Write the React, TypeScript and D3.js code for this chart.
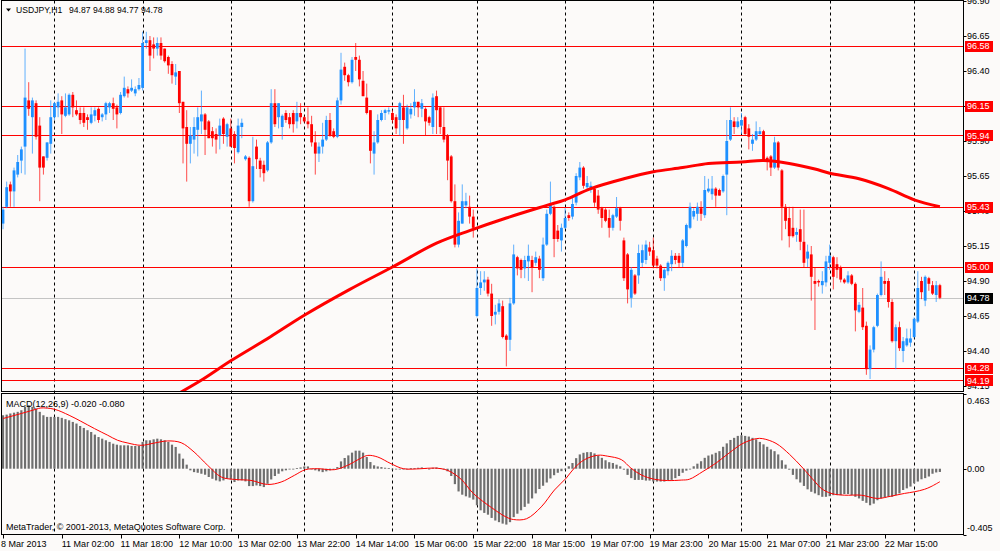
import React from 'react';
import * as d3 from 'd3';

// ---------- DATA ----------
const opens = [
  95.31, 95.43, 95.59, 95.54, 95.66, 95.76, 95.86, 96.19, 96.07, 96.17,
  96.01, 95.79, 95.78, 95.88, 96.07, 96.14, 96.19, 96.08, 96.09, 96.23,
  96.12, 96.10, 96.10, 96.07, 96.03, 96.08, 96.13, 96.07, 96.09, 96.14,
  96.17, 96.14, 96.10, 96.22, 96.27, 96.26, 96.24, 96.27, 96.28, 96.60,
  96.62, 96.59, 96.56, 96.60, 96.56, 96.50, 96.45, 96.36, 96.40, 96.18,
  96.00, 95.88, 95.91, 95.98, 96.04, 96.09, 96.04, 95.97, 95.95, 95.94,
  96.06, 95.93, 95.99, 95.95, 95.82, 96.00, 95.77, 95.78, 95.47, 95.86,
  95.76, 95.73, 95.69, 95.89, 96.17, 96.07, 96.00, 96.10, 96.07, 96.10,
  96.04, 96.10, 96.07, 96.04, 96.02, 95.89, 95.81, 95.86, 95.91, 96.05,
  95.97, 95.93, 96.19, 96.43, 96.37, 96.32, 96.50, 96.48, 96.33, 96.21,
  96.12, 95.81, 95.89, 96.05, 96.10, 96.11, 96.10, 96.07, 96.05, 96.14,
  95.99, 96.09, 96.14, 96.18, 96.13, 96.13, 96.07, 96.00, 96.22, 96.14,
  96.00, 95.94, 95.79, 95.47, 95.16, 95.31, 95.44, 95.43, 95.36, 94.65,
  94.85, 94.89, 94.91, 94.81, 94.66, 94.68, 94.72, 94.51, 94.48, 94.74,
  95.07, 95.05, 94.99, 95.04, 95.05, 95.03, 95.06, 94.92, 95.16, 95.38,
  95.43, 95.26, 95.19, 95.28, 95.37, 95.36, 95.46, 95.64, 95.71, 95.57,
  95.55, 95.56, 95.51, 95.42, 95.41, 95.35, 95.28, 95.36, 95.42, 95.19,
  95.09, 94.78, 94.94, 94.94, 95.03, 95.05, 95.14, 95.12, 95.06, 95.01,
  94.92, 94.97, 95.02, 95.08, 95.08, 95.03, 95.15, 95.28, 95.36, 95.38,
  95.42, 95.37, 95.54, 95.52, 95.56, 95.55, 95.54, 95.66, 95.91, 96.04,
  96.00, 96.01, 96.07, 95.99, 95.88, 95.91, 95.95, 95.97, 95.78, 95.79,
  95.71, 95.89, 95.69, 95.43, 95.35, 95.28, 95.23, 95.27, 95.18, 95.06,
  95.09, 94.90, 94.90, 94.87, 94.89, 95.03, 95.07, 95.02, 95.00, 94.91,
  94.89, 94.94, 94.88, 94.68, 94.71, 94.58, 94.27, 94.41, 94.58, 94.80,
  94.90, 94.90, 94.75, 94.47, 94.57, 94.40, 94.44, 94.46, 94.50, 94.61,
  94.90, 94.76, 94.92, 94.87, 94.80, 94.87,
];
const highs = [
  95.43, 95.61, 95.61, 95.71, 95.80, 95.86, 96.56, 96.32, 96.21, 96.19,
  96.07, 95.79, 95.89, 96.19, 96.18, 96.24, 96.22, 96.24, 96.24, 96.25,
  96.19, 96.14, 96.14, 96.09, 96.14, 96.14, 96.14, 96.10, 96.18, 96.18,
  96.21, 96.16, 96.25, 96.36, 96.29, 96.34, 96.29, 96.35, 96.68, 96.68,
  96.65, 96.64, 96.64, 96.64, 96.56, 96.51, 96.47, 96.45, 96.40, 96.18,
  96.12, 96.00, 96.07, 96.14, 96.26, 96.10, 96.05, 96.00, 95.99, 96.06,
  96.07, 96.03, 96.06, 95.97, 96.06, 96.06, 95.80, 95.79, 95.93, 95.91,
  95.78, 95.76, 95.90, 96.27, 96.27, 96.17, 96.09, 96.12, 96.10, 96.12,
  96.18, 96.17, 96.08, 96.14, 96.08, 95.97, 95.89, 96.03, 96.08, 96.10,
  95.99, 96.21, 96.53, 96.46, 96.38, 96.50, 96.60, 96.51, 96.40, 96.31,
  96.12, 95.97, 96.09, 96.12, 96.13, 96.14, 96.12, 96.09, 96.18, 96.23,
  96.16, 96.17, 96.27, 96.18, 96.20, 96.14, 96.08, 96.24, 96.26, 96.15,
  96.14, 95.95, 95.80, 95.59, 95.39, 95.59, 95.53, 95.51, 95.41, 94.99,
  94.97, 94.97, 94.93, 94.88, 94.73, 94.77, 94.76, 94.52, 94.78, 95.16,
  95.08, 95.06, 95.08, 95.16, 95.08, 95.11, 95.08, 95.21, 95.41, 95.61,
  95.44, 95.30, 95.31, 95.42, 95.39, 95.51, 95.67, 95.75, 95.72, 95.65,
  95.61, 95.57, 95.55, 95.43, 95.42, 95.41, 95.38, 95.50, 95.43, 95.21,
  95.10, 95.00, 94.95, 95.16, 95.16, 95.19, 95.18, 95.21, 95.08, 95.02,
  94.99, 95.04, 95.12, 95.10, 95.10, 95.20, 95.31, 95.46, 95.42, 95.46,
  95.47, 95.65, 95.63, 95.65, 95.57, 95.56, 95.66, 96.05, 96.14, 96.07,
  96.07, 96.10, 96.08, 96.02, 95.95, 96.04, 96.00, 95.98, 95.79, 95.80,
  95.93, 95.90, 95.70, 95.45, 95.43, 95.43, 95.28, 95.41, 95.41, 95.16,
  95.15, 95.00, 94.91, 94.97, 95.08, 95.16, 95.08, 95.07, 95.01, 94.92,
  94.97, 94.95, 94.89, 94.75, 94.85, 94.61, 94.44, 94.58, 94.81, 95.04,
  94.97, 94.92, 94.77, 94.59, 94.61, 94.50, 94.56, 94.56, 94.64, 94.97,
  94.93, 94.94, 94.93, 94.90, 94.90, 94.88,
];
const lows = [
  95.27, 95.42, 95.43, 95.43, 95.64, 95.67, 95.66, 96.08, 95.81, 95.91,
  95.47, 95.66, 95.76, 95.81, 96.05, 96.07, 95.95, 96.07, 96.08, 96.07,
  96.08, 96.02, 96.00, 95.98, 96.02, 96.04, 96.03, 96.04, 96.05, 96.10,
  96.05, 95.99, 96.09, 96.21, 96.21, 96.25, 96.22, 96.26, 96.26, 96.56,
  96.40, 96.49, 96.51, 96.48, 96.46, 96.38, 96.31, 96.30, 96.10, 95.74,
  95.61, 95.74, 95.81, 95.79, 95.95, 95.80, 95.92, 95.86, 95.81, 95.84,
  95.88, 95.86, 95.86, 95.74, 95.81, 95.92, 95.76, 95.43, 95.46, 95.70,
  95.64, 95.61, 95.68, 95.88, 96.00, 95.99, 95.91, 96.03, 95.99, 95.96,
  95.99, 96.02, 96.03, 95.99, 95.86, 95.66, 95.75, 95.81, 95.90, 95.93,
  95.92, 95.92, 96.16, 96.33, 96.29, 96.31, 96.40, 96.29, 96.22, 96.09,
  95.74, 95.66, 95.88, 96.04, 96.05, 96.09, 96.03, 95.95, 95.94, 95.88,
  95.98, 96.06, 96.08, 96.07, 96.07, 95.94, 96.01, 95.95, 95.95, 95.95,
  95.89, 95.62, 95.46, 95.14, 95.14, 95.31, 95.42, 95.31, 95.21, 94.64,
  94.80, 94.83, 94.79, 94.58, 94.59, 94.66, 94.49, 94.29, 94.40, 94.73,
  94.94, 94.92, 94.92, 94.90, 94.82, 95.01, 94.92, 94.90, 95.15, 95.37,
  95.07, 95.18, 95.11, 95.27, 95.33, 95.34, 95.44, 95.62, 95.56, 95.55,
  95.53, 95.43, 95.38, 95.28, 95.32, 95.21, 95.26, 95.35, 95.26, 94.90,
  94.74, 94.71, 94.80, 94.88, 95.00, 95.02, 95.08, 94.99, 94.99, 94.90,
  94.83, 94.94, 94.97, 95.02, 95.00, 95.00, 95.14, 95.27, 95.34, 95.33,
  95.33, 95.35, 95.53, 95.48, 95.43, 95.51, 95.53, 95.37, 95.90, 95.95,
  95.99, 95.95, 95.94, 95.84, 95.83, 95.90, 95.94, 95.75, 95.69, 95.65,
  95.70, 95.69, 95.19, 95.27, 95.14, 95.21, 95.18, 95.12, 95.00, 95.00,
  94.76, 94.55, 94.86, 94.81, 94.86, 94.98, 94.84, 94.92, 94.89, 94.88,
  94.88, 94.87, 94.54, 94.67, 94.55, 94.23, 94.20, 94.39, 94.57, 94.79,
  94.80, 94.71, 94.46, 94.27, 94.40, 94.32, 94.43, 94.43, 94.49, 94.60,
  94.77, 94.72, 94.83, 94.80, 94.75, 94.77,
];
const closes = [
  95.41, 95.57, 95.54, 95.69, 95.75, 95.84, 96.21, 96.13, 96.19, 95.93,
  95.71, 95.71, 95.89, 96.07, 96.17, 96.18, 96.09, 96.14, 96.23, 96.14,
  96.09, 96.05, 96.03, 96.05, 96.09, 96.12, 96.05, 96.09, 96.17, 96.17,
  96.13, 96.09, 96.23, 96.28, 96.24, 96.28, 96.27, 96.30, 96.60, 96.62,
  96.51, 96.56, 96.60, 96.51, 96.47, 96.44, 96.37, 96.39, 96.17, 95.99,
  95.88, 95.94, 96.00, 96.07, 96.09, 95.98, 95.92, 95.92, 95.91, 96.01,
  95.95, 96.02, 95.86, 95.85, 96.01, 96.03, 95.79, 95.47, 95.72, 95.77,
  95.70, 95.67, 95.89, 96.17, 96.02, 96.17, 96.08, 96.05, 96.02, 96.02,
  96.10, 96.07, 96.04, 96.02, 95.89, 95.81, 95.86, 95.91, 96.05, 95.94,
  95.93, 96.19, 96.41, 96.37, 96.32, 96.48, 96.48, 96.34, 96.22, 96.10,
  95.83, 95.89, 96.05, 96.10, 96.12, 96.12, 96.05, 95.99, 96.17, 96.05,
  96.14, 96.13, 96.18, 96.14, 96.17, 96.04, 96.03, 96.21, 96.12, 96.00,
  95.91, 95.76, 95.47, 95.16, 95.33, 95.47, 95.47, 95.36, 95.28, 94.85,
  94.89, 94.91, 94.81, 94.65, 94.68, 94.74, 94.50, 94.48, 94.74, 95.09,
  94.99, 94.98, 95.05, 95.08, 95.00, 95.07, 94.98, 95.16, 95.38, 95.45,
  95.20, 95.20, 95.28, 95.35, 95.35, 95.45, 95.65, 95.71, 95.58, 95.60,
  95.58, 95.46, 95.41, 95.35, 95.33, 95.28, 95.37, 95.42, 95.33, 94.92,
  94.84, 94.98, 94.81, 95.10, 95.12, 95.16, 95.11, 95.01, 95.01, 94.92,
  94.98, 95.03, 95.08, 95.05, 95.03, 95.19, 95.30, 95.43, 95.40, 95.43,
  95.38, 95.55, 95.56, 95.56, 95.51, 95.51, 95.65, 95.90, 96.05, 96.00,
  96.04, 96.05, 95.95, 95.93, 95.91, 95.97, 95.97, 95.76, 95.75, 95.71,
  95.89, 95.71, 95.43, 95.33, 95.22, 95.22, 95.25, 95.18, 95.03, 95.11,
  94.93, 94.88, 94.89, 94.90, 95.04, 95.08, 94.93, 94.98, 94.91, 94.89,
  94.94, 94.88, 94.69, 94.73, 94.57, 94.27, 94.41, 94.57, 94.80, 94.93,
  94.88, 94.75, 94.47, 94.57, 94.42, 94.47, 94.49, 94.49, 94.63, 94.85,
  94.82, 94.93, 94.88, 94.81, 94.87, 94.78,
];

// Moving average (thick red curve), sampled at bar positions
const maBars = [48, 54.5, 62, 72.7, 82, 94.4, 106, 118, 127, 137, 148, 153, 160, 169, 177, 185, 192, 201, 207, 214, 221, 225, 233, 241, 248, 255];
const maValues = [94.10, 94.20, 94.33, 94.50, 94.655, 94.84, 95.00, 95.17, 95.26, 95.35, 95.44, 95.48, 95.56, 95.63, 95.68, 95.71, 95.74, 95.75, 95.76, 95.74, 95.70, 95.67, 95.63, 95.56, 95.48, 95.43];

// MACD histogram (main line), one per bar
const macdHist = [
  0.329, 0.333, 0.340, 0.345, 0.350, 0.360, 0.381, 0.391, 0.381, 0.370,
  0.350, 0.329, 0.319, 0.319, 0.319, 0.319, 0.313, 0.305, 0.298, 0.288,
  0.278, 0.263, 0.251, 0.237, 0.226, 0.210, 0.195, 0.185, 0.175, 0.165,
  0.154, 0.148, 0.144, 0.144, 0.144, 0.140, 0.140, 0.140, 0.165, 0.175,
  0.175, 0.181, 0.185, 0.181, 0.175, 0.165, 0.148, 0.134, 0.093, 0.062,
  0.025, -0.010, -0.021, -0.025, -0.031, -0.037, -0.051, -0.062, -0.072, -0.078,
  -0.072, -0.062, -0.066, -0.082, -0.072, -0.072, -0.078, -0.107, -0.107, -0.103,
  -0.107, -0.113, -0.093, -0.066, -0.045, -0.031, -0.016, -0.010, -0.004, 0.000,
  0.004, 0.008, 0.014, 0.014, 0.000, -0.010, -0.016, -0.021, -0.016, -0.010,
  -0.006, 0.010, 0.045, 0.066, 0.082, 0.099, 0.111, 0.111, 0.099, 0.072,
  0.041, 0.021, 0.014, 0.010, 0.006, 0.004, 0.000, -0.004, -0.004, -0.004,
  0.000, 0.004, 0.004, 0.006, 0.008, 0.004, 0.000, 0.006, 0.008, 0.004,
  -0.004, -0.016, -0.045, -0.095, -0.140, -0.160, -0.170, -0.178, -0.190, -0.225,
  -0.256, -0.272, -0.283, -0.303, -0.319, -0.329, -0.338, -0.344, -0.329, -0.298,
  -0.277, -0.256, -0.235, -0.215, -0.183, -0.152, -0.125, -0.105, -0.085, -0.060,
  -0.040, -0.025, -0.015, -0.005, 0.015, 0.035, 0.065, 0.088, 0.098, 0.102,
  0.102, 0.094, 0.081, 0.067, 0.052, 0.040, 0.035, 0.025, 0.015, -0.006,
  -0.038, -0.058, -0.069, -0.069, -0.069, -0.073, -0.073, -0.079, -0.079, -0.079,
  -0.079, -0.073, -0.069, -0.058, -0.045, -0.025, -0.012, -0.004, 0.015, 0.031,
  0.046, 0.067, 0.081, 0.088, 0.098, 0.108, 0.135, 0.156, 0.177, 0.190,
  0.202, 0.206, 0.202, 0.198, 0.190, 0.181, 0.165, 0.150, 0.135, 0.119,
  0.108, 0.088, 0.052, 0.025, -0.006, -0.038, -0.065, -0.085, -0.106, -0.127,
  -0.142, -0.152, -0.163, -0.173, -0.173, -0.169, -0.163, -0.163, -0.163, -0.156,
  -0.156, -0.163, -0.173, -0.183, -0.198, -0.210, -0.225, -0.215, -0.194, -0.183,
  -0.177, -0.173, -0.173, -0.163, -0.152, -0.131, -0.121, -0.110, -0.090, -0.079,
  -0.065, -0.058, -0.048, -0.031, -0.023, -0.020,
];

// MACD signal line, sampled at bar positions
const signalBars = [0, 5, 9, 10.3, 14, 18, 21.2, 24.9, 28.5, 31.2, 34, 37.6, 41.2, 44.8, 48.5, 52, 55.7, 59.4, 63, 67.5, 72, 75.7, 79.3, 82.3, 85.7, 90.2, 93.8, 97.5, 99.3, 102, 105.6, 109, 113.8, 117.4, 121, 124.7, 128, 133, 137, 139, 142.5, 146.5, 150.1, 153.3, 155.5, 158.3, 161.9, 164.6, 168.3, 170.9, 173.7, 177.3, 180.9, 184.6, 186.8, 190.5, 194.1, 197.7, 201.4, 205, 206.8, 210.4, 214.1, 217.7, 221, 222.7, 225.4, 229, 233.6, 238, 241.7, 245.4, 248.1, 250.8, 252.6, 255];
const signalValues = [0.309, 0.340, 0.366, 0.374, 0.366, 0.329, 0.292, 0.247, 0.206, 0.175, 0.158, 0.144, 0.158, 0.171, 0.160, 0.103, 0.021, -0.051, -0.066, -0.072, -0.097, -0.082, -0.041, -0.006, 0, -0.006, 0.021, 0.066, 0.082, 0.072, 0.031, 0, 0, 0.004, -0.010, -0.065, -0.152, -0.24, -0.298, -0.313, -0.308, -0.235, -0.131, -0.058, 0.004, 0.056, 0.083, 0.077, 0.056, 0.004, -0.038, -0.065, -0.073, -0.070, -0.065, -0.017, 0.035, 0.098, 0.156, 0.185, 0.185, 0.156, 0.088, 0.004, -0.080, -0.121, -0.152, -0.163, -0.163, -0.183, -0.169, -0.152, -0.142, -0.127, -0.110, -0.080];

const levelPrices = [96.58, 96.15, 95.94, 95.43, 95.0, 94.28, 94.19];
const levelLabels = ['96.58', '96.15', '95.94', '95.43', '95.00', '94.28', '94.19'];
const currentPrice = 94.78;
const currentLabel = '94.78';
const priceTicks = [96.9, 96.65, 96.4, 96.15, 95.9, 95.65, 95.4, 95.15, 94.9, 94.65, 94.4, 94.15];
const priceTickLabels = ['96.90', '96.65', '96.40', '96.15', '95.90', '95.65', '95.40', '95.15', '94.90', '94.65', '94.40', '94.15'];
const macdTicks = [0.463, 0, -0.405];
const macdTickLabels = ['0.463', '0.00', '-0.405'];
const dayStartBars = [14, 38, 62, 82, 106, 129, 153, 177, 201, 225, 248];
const timeLabelBars = [0, 16, 32, 48, 64, 80, 96, 112, 128, 144, 160, 176, 192, 208, 224, 240];
const timeLabels = ['8 Mar 2013', '11 Mar 02:00', '11 Mar 18:00', '12 Mar 10:00', '13 Mar 02:00', '13 Mar 22:00', '14 Mar 14:00', '15 Mar 06:00', '15 Mar 22:00', '18 Mar 15:00', '19 Mar 07:00', '19 Mar 23:00', '20 Mar 15:00', '21 Mar 07:00', '21 Mar 23:00', '22 Mar 15:00'];
const titleSymbol = 'USDJPY,H1';
const titleQuotes = ['94.87', '94.88', '94.77', '94.78'];
const macdTitle = 'MACD(12,26,9) -0.020 -0.080';
const copyright = 'MetaTrader, \u00A9 2001-2013, MetaQuotes Software Corp.';

const FONT = "'Liberation Sans', Arial, sans-serif";
const BLUE = '#1e90ff';
const RED = '#ff0000';

export default function App() {
  const left = 1.5;
  const right = 963.5;
  const mainTop = 0.5;
  const mainBottom = 391.5;
  const macdTop = 393.5;
  const macdBottom = 534.5;

  const x = d3.scaleLinear().domain([0, 255]).range([3, 3 + 255 * 3.674]);
  const y = d3.scaleLinear().domain([94.15, 96.9]).range([386, 1]);
  const ym = d3.scaleLinear().domain([-0.405, 0.463]).range([macdBottom, macdTop]);

  const maPath = d3
    .line<number>()
    .x((_, i) => x(maBars[i]))
    .y((d) => y(d))
    .curve(d3.curveCatmullRom.alpha(0.5))(maValues) as string;

  const sigPath = d3
    .line<number>()
    .x((_, i) => x(signalBars[i]))
    .y((d) => ym(d))
    .curve(d3.curveCatmullRom.alpha(0.5))(signalValues) as string;

  const fs = 9;

  return (
    <svg
      width={1000}
      height={551}
      style={{ position: 'absolute', left: 0, top: 0, display: 'block' }}
      fontFamily={FONT}
    >
      <defs>
        <clipPath id="clipMain">
          <rect x={left} y={mainTop} width={right - left} height={mainBottom - mainTop} />
        </clipPath>
        <clipPath id="clipMacd">
          <rect x={left} y={macdTop} width={right - left} height={macdBottom - macdTop} />
        </clipPath>
      </defs>
      <rect x={0} y={0} width={1000} height={551} fill="#fcfaf9" />

      {/* vertical day separators */}
      {dayStartBars.map((b) => (
        <line
          key={'d' + b}
          x1={Math.round(x(b)) + 0.5}
          x2={Math.round(x(b)) + 0.5}
          y1={mainTop}
          y2={macdBottom}
          stroke="#000"
          strokeWidth={1}
          strokeDasharray="3,3"
        />
      ))}

      {/* main panel */}
      <g clipPath="url(#clipMain)">
        <line x1={left} x2={right} y1={Math.round(y(currentPrice)) + 0.5} y2={Math.round(y(currentPrice)) + 0.5} stroke="#c4c4c4" strokeWidth={1} />
        {levelPrices.map((p, i) => (
          <line key={'l' + i} x1={left} x2={right} y1={Math.round(y(p)) + 0.5} y2={Math.round(y(p)) + 0.5} stroke={RED} strokeWidth={1} />
        ))}
        {closes.map((c, i) => {
          const o = opens[i];
          const h = Math.max(highs[i], o, c);
          const l = Math.min(lows[i], o, c);
          const up = c >= o;
          const col = up ? BLUE : RED;
          const cx = x(i);
          const top = y(Math.max(o, c));
          const bot = y(Math.min(o, c));
          return (
            <g key={'c' + i}>
              <line x1={cx} x2={cx} y1={y(h)} y2={y(l)} stroke={col} strokeOpacity={0.7} strokeWidth={1} />
              <rect x={cx - 1.4} y={top} width={2.8} height={Math.max(bot - top, 1)} fill={col} />
            </g>
          );
        })}
        <path d={maPath} fill="none" stroke={RED} strokeWidth={3} />
      </g>

      {/* MACD panel */}
      <g clipPath="url(#clipMacd)">
        {macdHist.map((v, i) => {
          const y0 = ym(0);
          const y1 = ym(v);
          return (
            <rect
              key={'h' + i}
              x={x(i) - 1.1}
              y={Math.min(y0, y1)}
              width={2.2}
              height={Math.max(Math.abs(y1 - y0), 0.8)}
              fill="#6f6f6f"
            />
          );
        })}
        <path d={sigPath} fill="none" stroke={RED} strokeWidth={1} />
      </g>

      {/* frames */}
      <rect x={left} y={mainTop} width={right - left} height={mainBottom - mainTop} fill="none" stroke="#000" strokeWidth={1} />
      <rect x={left} y={macdTop} width={right - left} height={macdBottom - macdTop} fill="none" stroke="#000" strokeWidth={1} />

      {/* price axis */}
      {priceTicks.map((p, i) => (
        <g key={'pt' + i}>
          <line x1={right} x2={right + 3} y1={Math.round(y(p)) + 0.5} y2={Math.round(y(p)) + 0.5} stroke="#000" />
          <text x={967} y={y(p)} dy="0.35em" fontSize={fs} fill="#000">
            {priceTickLabels[i]}
          </text>
        </g>
      ))}
      {levelPrices.map((p, i) => (
        <g key={'lb' + i}>
          <rect x={965} y={Math.round(y(p)) - 5} width={28} height={11} fill={RED} />
          <text x={967} y={y(p)} dy="0.35em" fontSize={fs} fill="#fff">
            {levelLabels[i]}
          </text>
        </g>
      ))}
      <rect x={965} y={Math.round(y(currentPrice)) - 5} width={28} height={11} fill="#000" />
      <text x={967} y={y(currentPrice)} dy="0.35em" fontSize={fs} fill="#fff">
        {currentLabel}
      </text>

      {/* MACD axis */}
      {macdTicks.map((v, i) => {
        const yy = i === 0 ? ym(v) + 7 : i === 2 ? ym(v) - 7 : ym(v);
        return (
          <g key={'mt' + i}>
            <line x1={right} x2={right + 3} y1={Math.round(ym(v)) + 0.5} y2={Math.round(ym(v)) + 0.5} stroke="#000" />
            <text x={967} y={yy} dy="0.35em" fontSize={fs} fill="#000">
              {macdTickLabels[i]}
            </text>
          </g>
        );
      })}

      {/* time axis */}
      {timeLabelBars.map((b, i) => (
        <g key={'t' + i}>
          <line x1={Math.round(x(b)) + 0.5} x2={Math.round(x(b)) + 0.5} y1={macdBottom} y2={macdBottom + 4} stroke="#000" />
          <text x={x(b) + (i === 0 ? -2 : 0)} y={547} fontSize={fs} fill="#000">
            {timeLabels[i]}
          </text>
        </g>
      ))}

      {/* titles */}
      <path d="M6,8.5 L11,8.5 L8.5,11.5 Z" fill="#000" />
      <text x={16} y={13} fontSize={8.6} fill="#000">
        {titleSymbol}
      </text>
      {titleQuotes.map((q, i) => (
        <text key={'q' + i} x={69 + i * 24} y={13} fontSize={8.6} fill="#000">
          {q}
        </text>
      ))}
      <text x={6} y={407} fontSize={fs} fill="#000">
        {macdTitle}
      </text>
      <text x={6} y={530} fontSize={fs} fill="#000">
        {copyright}
      </text>
    </svg>
  );
}
